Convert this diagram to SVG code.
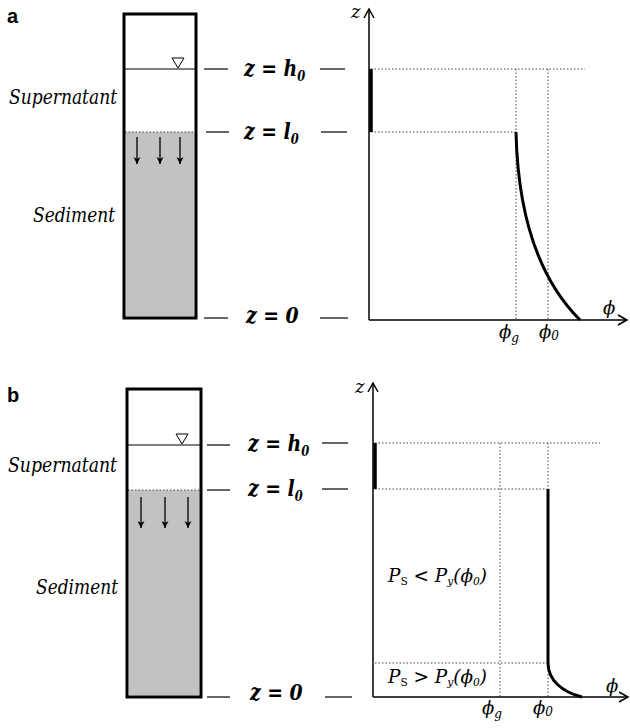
<svg xmlns="http://www.w3.org/2000/svg" width="630" height="728" viewBox="0 0 630 728">
<style>
.col{fill:none;stroke:#000;stroke-width:3}
.thin{stroke:#000;stroke-width:1;fill:none}
.arr{stroke:#000;stroke-width:1.3;fill:none}
.dash{stroke:#000;stroke-width:1.2}
.dot{stroke:#444;stroke-width:1;stroke-dasharray:1.5 2;fill:none}
.thick{stroke:#000;stroke-width:3;fill:none}
.axis{stroke:#000;stroke-width:1.5;fill:none}
.serif{font-family:"DejaVu Serif","Liberation Serif",serif;font-style:italic;fill:#000}
.lbl{font-size:20px}
.zl{font-weight:bold;font-size:23px}
.ax{font-size:18px}
.ps{font-size:19px}
.pl{font-family:"Liberation Sans","DejaVu Sans",Arial,sans-serif;font-weight:bold;font-size:20px;fill:#000}
</style>
<defs>
<marker id="ah" markerWidth="8" markerHeight="8" refX="7" refY="4" orient="auto" markerUnits="userSpaceOnUse">
<path d="M0,0.5 L7,4 L0,7.5 L2,4 Z" fill="#000"/>
</marker>
<marker id="ax" markerWidth="12" markerHeight="12" refX="10" refY="6" orient="auto" markerUnits="userSpaceOnUse">
<path d="M1,1 L10,6 L1,11" fill="none" stroke="#000" stroke-width="1.5"/>
</marker>
</defs>

<g id="panel-a">
<text class="pl" x="7" y="23">a</text>
<g id="column-a">
<rect x="125.5" y="132" width="69" height="184.5" fill="#c2c2c2"/>
<line class="dot" x1="125" y1="132" x2="195" y2="132" stroke="#222"/>
<line class="thin" x1="124" y1="69" x2="196" y2="69"/>
<polygon points="172,58 184,58 178,68" fill="#fff" stroke="#000" stroke-width="1"/>
<rect class="col" x="124" y="14" width="72" height="304"/>
</g>
<g id="labels-a" class="serif">
<text class="lbl" x="9" y="104" textLength="108" lengthAdjust="spacingAndGlyphs">Supernatant</text>
<text class="lbl" x="33" y="222" textLength="82" lengthAdjust="spacingAndGlyphs">Sediment</text>
<text class="zl" transform="translate(244,76) scale(0.82,1)">z = h<tspan font-size="14" dy="5">0</tspan></text>
<text class="zl" transform="translate(244,139) scale(0.82,1)">z = l<tspan font-size="14" dy="5">0</tspan></text>
<text class="zl" transform="translate(246,323) scale(0.82,1)">z = 0</text>
</g>
<g id="graph-a" class="serif">
<text class="ax" x="351" y="18">z</text>
<text class="ax" x="603" y="314" font-size="22">ϕ</text>
<text class="ax" x="499" y="338" font-size="20">ϕ<tspan font-size="12" dy="4">g</tspan></text>
<text class="ax" x="539" y="338" font-size="20">ϕ<tspan font-size="12" dy="2">0</tspan></text>
</g>
</g>

<g id="panel-b">
<text class="pl" x="7" y="402">b</text>
<g id="column-b">
<rect x="128.5" y="490" width="71" height="205.5" fill="#c2c2c2"/>
<line class="dot" x1="128" y1="490" x2="200" y2="490" stroke="#222"/>
<line class="thin" x1="127" y1="445" x2="201" y2="445"/>
<polygon points="176,434 188,434 182,444" fill="#fff" stroke="#000" stroke-width="1"/>
<rect class="col" x="127" y="389" width="74" height="308"/>
</g>
<g id="labels-b" class="serif">
<text class="lbl" x="8" y="472" textLength="109" lengthAdjust="spacingAndGlyphs">Supernatant</text>
<text class="lbl" x="36" y="594" textLength="82" lengthAdjust="spacingAndGlyphs">Sediment</text>
<text class="zl" transform="translate(248,451) scale(0.82,1)">z = h<tspan font-size="14" dy="5">0</tspan></text>
<text class="zl" transform="translate(248,496) scale(0.82,1)">z = l<tspan font-size="14" dy="5">0</tspan></text>
<text class="zl" transform="translate(250,700) scale(0.82,1)">z = 0</text>
</g>
<g id="graph-b" class="serif">
<text class="ax" x="355" y="393">z</text>
<text class="ax" x="606" y="692" font-size="22">ϕ</text>
<text class="ax" x="482" y="714" font-size="20">ϕ<tspan font-size="12" dy="4">g</tspan></text>
<text class="ax" x="533" y="714" font-size="20">ϕ<tspan font-size="12" dy="2">0</tspan></text>
<text class="ps" transform="translate(388,582) scale(0.97,1)">P<tspan font-size="11" font-style="normal" dy="3">S</tspan><tspan dy="-3"> &lt; P</tspan><tspan font-size="11" dy="3">y</tspan><tspan dy="-3">(ϕ</tspan><tspan font-size="11" dy="3">0</tspan><tspan dy="-3">)</tspan></text>
<text class="ps" transform="translate(388,683) scale(0.97,1)">P<tspan font-size="11" font-style="normal" dy="3">S</tspan><tspan dy="-3"> &gt; P</tspan><tspan font-size="11" dy="3">y</tspan><tspan dy="-3">(ϕ</tspan><tspan font-size="11" dy="3">0</tspan><tspan dy="-3">)</tspan></text>
</g>
</g>

<g id="connectors">
<line class="arr" x1="137" y1="137" x2="137" y2="164" marker-end="url(#ah)"/>
<line class="arr" x1="160" y1="137" x2="160" y2="164" stroke="#777" marker-end="url(#ah)"/>
<line class="arr" x1="180" y1="137" x2="180" y2="164" marker-end="url(#ah)"/>
<line class="arr" x1="141" y1="497" x2="141" y2="528" marker-end="url(#ah)"/>
<line class="arr" x1="165" y1="497" x2="165" y2="528" marker-end="url(#ah)"/>
<line class="arr" x1="188" y1="497" x2="188" y2="528" marker-end="url(#ah)"/>
<line class="dash" x1="204" y1="69" x2="228" y2="69"/>
<line class="dash" x1="206" y1="132" x2="229" y2="132"/>
<line class="dash" x1="204" y1="318" x2="228" y2="318"/>
<line class="dash" x1="320" y1="69" x2="345" y2="69"/>
<line class="dash" x1="321" y1="132" x2="347" y2="132"/>
<line class="dash" x1="320" y1="318" x2="348" y2="318"/>
<line class="dash" x1="207" y1="445" x2="230" y2="445"/>
<line class="dash" x1="207" y1="490" x2="230" y2="490"/>
<line class="dash" x1="207" y1="697" x2="230" y2="697"/>
<line class="dash" x1="322" y1="443" x2="348" y2="443"/>
<line class="dash" x1="322" y1="489" x2="348" y2="489"/>
<line class="dash" x1="325" y1="697" x2="352" y2="697"/>
<line class="dot" x1="371" y1="69" x2="585" y2="69"/>
<line class="dot" x1="371" y1="132" x2="516" y2="132"/>
<line class="dot" x1="516" y1="69" x2="516" y2="320"/>
<line class="dot" x1="548" y1="69" x2="548" y2="320"/>
<line class="axis" x1="369" y1="320" x2="369" y2="9" marker-end="url(#ax)"/>
<line class="axis" x1="369" y1="320" x2="627" y2="320" marker-end="url(#ax)"/>
<line stroke="#000" stroke-width="3.5" x1="371" y1="69" x2="371" y2="132"/>
<path class="thick" d="M516,132 C518,220 540,280 580,320"/>
<line class="dot" x1="375" y1="443" x2="600" y2="443"/>
<line class="dot" x1="375" y1="489" x2="547" y2="489"/>
<line class="dot" x1="375" y1="663" x2="547" y2="663"/>
<line class="dot" x1="500" y1="443" x2="500" y2="697"/>
<line class="dot" x1="548" y1="443" x2="548" y2="697"/>
<line class="axis" x1="373" y1="697" x2="373" y2="383" marker-end="url(#ax)"/>
<line class="axis" x1="373" y1="697" x2="628" y2="697" marker-end="url(#ax)"/>
<line stroke="#000" stroke-width="3.5" x1="375" y1="443" x2="375" y2="489"/>
<path class="thick" d="M548,489 L548,663 C548,680 562,692 582,697"/>
</g>
</svg>
